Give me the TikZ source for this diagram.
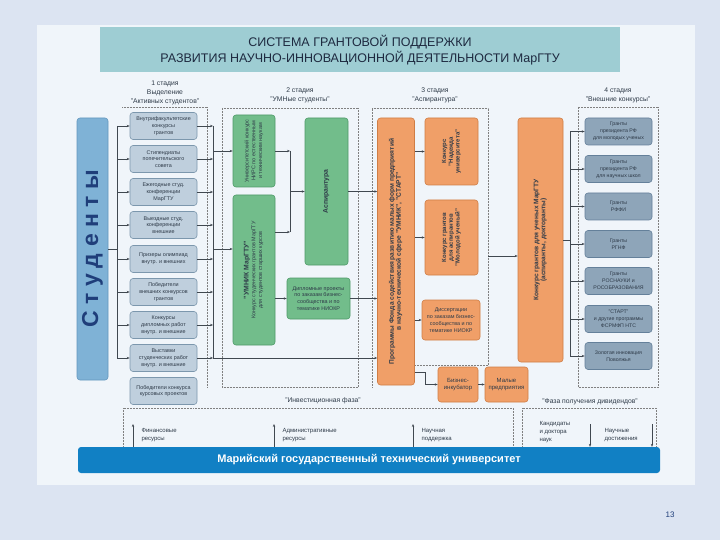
\documentclass[tikz,border=0pt]{standalone}
\usepackage{fontspec}
\usepackage{graphicx}
\setmainfont{Liberation Sans}
\usetikzlibrary{arrows.meta}

\definecolor{slidebg}{HTML}{DCE4F2}
\definecolor{panel}{HTML}{F0F5FA}
\definecolor{titlefill}{HTML}{9ECDD3}
\definecolor{titletxt}{HTML}{1E2A40}
\definecolor{studfill}{HTML}{7FB2D6}
\definecolor{studline}{HTML}{6497BD}
\definecolor{studtxt}{HTML}{1F3E7A}
\definecolor{greyfill}{HTML}{BFCFDD}
\definecolor{greyline}{HTML}{7C97AD}
\definecolor{greenfill}{HTML}{72BD8B}
\definecolor{greenline}{HTML}{4E9A68}
\definecolor{orfill}{HTML}{F09F68}
\definecolor{orline}{HTML}{CF7D45}
\definecolor{slatefill}{HTML}{8EA5B9}
\definecolor{slateline}{HTML}{64809A}
\definecolor{bartone}{HTML}{1180C4}
\definecolor{txt}{HTML}{2E3A48}
\definecolor{wire}{HTML}{404850}

\tikzset{
  titlebox/.style={fill=titlefill, minimum width=520pt, minimum height=45pt, align=center,
    text=titletxt, font=\fontsize{12.5}{16}\selectfont},
  stage/.style={align=center, text=txt, font=\fontsize{6.8}{9}\selectfont},
  phase/.style={text=txt, font=\fontsize{6.8}{8}\selectfont},
  studbox/.style={draw=studline, fill=studfill, rounded corners=3pt, line width=0.6pt,
    minimum width=31pt, minimum height=262pt, text=studtxt, font=\fontsize{23}{25}\selectfont\bfseries},
  greybox/.style={draw=greyline, fill=greyfill, rounded corners=3pt, line width=0.6pt,
    minimum width=67pt, minimum height=27pt, inner sep=1pt, align=center, text=txt,
    font=\fontsize{5.4}{6.8}\selectfont},
  greenbox/.style={draw=greenline, fill=greenfill, rounded corners=3pt, line width=0.6pt,
    inner sep=1pt, align=center, text=txt, font=\fontsize{5.4}{6.8}\selectfont},
  orbox/.style={draw=orline, fill=orfill, rounded corners=3pt, line width=0.6pt,
    inner sep=1pt, align=center, text=txt, font=\fontsize{5.4}{6.8}\selectfont},
  slatebox/.style={draw=slateline, fill=slatefill, rounded corners=3pt, line width=0.6pt,
    minimum width=67pt, minimum height=27pt, inner sep=1pt, align=center, text=txt,
    font=\fontsize{5.2}{6.8}\selectfont},
  unibar/.style={fill=bartone, rounded corners=3pt, minimum width=582pt, minimum height=26pt,
    text=white, font=\fontsize{11}{13}\selectfont\bfseries},
  restext/.style={anchor=north west, align=left, text=txt, font=\fontsize{6}{8}\selectfont},
  conn/.style={draw=wire, line width=0.5pt},
  arr/.style={conn, -{Stealth[length=3pt,width=2.4pt]}},
  frame/.style={draw=gray, line width=0.5pt, densely dotted},
}
\newcommand{\vtxt}[1]{\rotatebox{90}{\begin{tabular}{@{}c@{}}#1\end{tabular}}}

\begin{document}
\begin{tikzpicture}[x=1pt,y=-1pt]
    \fill[slidebg] (0,0) rectangle (720,540);
    \fill[panel] (37,25) rectangle (695,485);
    \useasboundingbox (0,0) rectangle (720,540);

    \node[titlebox] (title) at (360,50) {СИСТЕМА ГРАНТОВОЙ ПОДДЕРЖКИ\\РАЗВИТИЯ НАУЧНО-ИННОВАЦИОННОЙ ДЕЯТЕЛЬНОСТИ МарГТУ};

    \node[stage] (st1) at (165,93) {1 стадия\\Выделение\\"Активных студентов"};
    \node[stage] (st2) at (300,95) {2 стадия\\"УМНые студенты"};
    \node[stage] (st3) at (435,95) {3 стадия\\"Аспирантура"};
    \node[stage] (st4) at (618,95) {4 стадия\\"Внешние конкурсы"};

    % dotted frames of the stages
    \draw[frame] (122,107) -- (207,107) -- (207,387);
    \draw[frame] (222,108) rectangle (358,387);
    \draw[frame] (372,387) |- (488,108) -- (488,365) -- (415,365);
    \draw[frame] (578,107) rectangle (658,387);
    \draw[frame] (123,408) rectangle (513,447);
    \draw[frame] (522,408) rectangle (656,447);

    \node[studbox] (stud) at (92.5,249) {\rotatebox{90}{\addfontfeatures{LetterSpace=28}Студенты}};

    % stage 1
    \node[greybox] (b1) at (163.5,126) {Внутрифакультетские\\конкурсы\\грантов};
    \node[greybox] (b2) at (163.5,159) {Стипендиаты\\попечительского\\совета};
    \node[greybox] (b3) at (163.5,192) {Ежегодные студ.\\конференции\\МарГТУ};
    \node[greybox] (b4) at (163.5,225) {Выездные студ.\\конференции\\внешние};
    \node[greybox] (b5) at (163.5,259) {Призеры олимпиад\\внутр. и внешних};
    \node[greybox] (b6) at (163.5,292) {Победители\\внешних конкурсов\\грантов};
    \node[greybox] (b7) at (163.5,325) {Конкурсы\\дипломных работ\\внутр. и внешние};
    \node[greybox] (b8) at (163.5,358) {Выставки\\студенческих работ\\внутр. и внешние};
    \node[greybox] (b9) at (163.5,391) {Победители конкурса\\курсовых проектов};

    \coordinate (busL) at (117,0);
    \coordinate (busR) at (213,0);
    \draw[conn] (stud.east) -- (busL |- stud.east);
    \draw[conn] (busL |- b1) -- (busL |- b8);
    \draw[arr] (busL |- b1) -- (b1.west);
    \draw[arr] (busL |- b2) -- (b2.west);
    \draw[arr] (busL |- b3) -- (b3.west);
    \draw[arr] (busL |- b4) -- (b4.west);
    \draw[arr] (busL |- b5) -- (b5.west);
    \draw[arr] (busL |- b6) -- (b6.west);
    \draw[arr] (busL |- b7) -- (b7.west);
    \draw[arr] (busL |- b8) -- (b8.west);
    \draw[arr] (b1.east) -- (busR |- b1);
    \draw[arr] (b2.east) -- (busR |- b2);
    \draw[arr] (b3.east) -- (busR |- b3);
    \draw[arr] (b4.east) -- (busR |- b4);
    \draw[arr] (b5.east) -- (busR |- b5);
    \draw[arr] (b6.east) -- (busR |- b6);
    \draw[arr] (b7.east) -- (busR |- b7);
    \draw[arr] (b8.east) -- (busR |- b8);
    \draw[conn] (busR |- b1) -- (busR |- b8);

    % stage 2
    \node[greenbox, minimum width=42pt, minimum height=72pt] (nirs) at (254,151)
        {\vtxt{Университетский конкурс\\НИРС по естественным\\и техническим наукам}};
    \node[greenbox, minimum width=42pt, minimum height=150pt] (umnik) at (254,270)
        {\vtxt{{\bfseries\fontsize{6.8}{8}\selectfont "УМНИК МарГТУ"}\\Конкурс студенческих грантов МарГТУ\\для студентов старших курсов}};
    \node[greenbox, minimum width=43pt, minimum height=147pt] (asp) at (326.5,191.5)
        {\vtxt{\bfseries\fontsize{6.8}{8}\selectfont Аспирантура}};
    \node[greenbox, minimum width=63pt, minimum height=41pt] (dipl) at (318.5,298.5)
        {Дипломные проекты\\по заказам бизнес-\\сообщества и по\\тематике НИОКР};

    \draw[arr] (busR |- nirs) -- (nirs.west);
    \draw[arr] (busR |- stud.east) -- (umnik.west |- stud.east);

    \coordinate (jn) at (290,232);
    \draw[arr] (nirs.east) -- (jn |- nirs.east);
    \draw[arr] (umnik.east |- jn) -- (jn);
    \draw[conn] (jn |- nirs.east) -- (jn);
    \draw[arr] (jn |- asp) -- (asp.west);
    \draw[arr] (umnik.east |- dipl) -- (dipl.west);

    % stage 3
    \node[orbox, minimum width=37pt, minimum height=267pt] (prog) at (396,251.5)
        {\vtxt{\bfseries\fontsize{6.6}{8.5}\selectfont Программы Фонда содействия развитию малых форм предприятий\\\bfseries\fontsize{6.6}{8.5}\selectfont в научно-технической сфере "УМНИК", "СТАРТ"}};
    \node[orbox, minimum width=53pt, minimum height=67pt] (nadezh) at (451.5,151.5)
        {\vtxt{\bfseries\fontsize{6}{7.5}\selectfont Конкурс\\\bfseries\fontsize{6}{7.5}\selectfont "Надежда\\\bfseries\fontsize{6}{7.5}\selectfont университета"}};
    \node[orbox, minimum width=53pt, minimum height=75pt] (molod) at (451.5,237.5)
        {\vtxt{\bfseries\fontsize{6}{7.5}\selectfont Конкурс грантов\\\bfseries\fontsize{6}{7.5}\selectfont для аспирантов\\\bfseries\fontsize{6}{7.5}\selectfont "Молодой ученый"}};
    \node[orbox, minimum width=58pt, minimum height=40pt] (diss) at (451,320)
        {Диссертации\\по заказам бизнес-\\сообщества и по\\тематике НИОКР};
    \node[orbox, minimum width=40pt, minimum height=35pt, font=\fontsize{6}{7.5}\selectfont] (incub) at (458,384.5)
        {Бизнес-\\инкубатор};
    \node[orbox, minimum width=43pt, minimum height=35pt, font=\fontsize{6}{7.5}\selectfont] (small) at (506.5,384.5)
        {Малые\\предприятия};

    \draw[arr] (asp.east) -- (prog.west |- asp);
    \draw[arr] (dipl.east) -- (prog.west |- dipl);
    \draw[arr] (busR |- b8) -- (prog.west |- b8);
    \draw[arr] (prog.east |- nadezh) -- (nadezh.west);
    \draw[arr] (prog.east |- molod) -- (molod.west);
    \draw[arr] (prog.east |- diss) -- (diss.west);
    \coordinate (pout) at (415,372);
    \draw[arr] (pout) -- ++(10,0) |- (incub.west);
    \draw[arr] (incub.east) -- (small.west);

    % stage 4
    \node[orbox, minimum width=45pt, minimum height=244pt] (uchen) at (540.5,240)
        {\vtxt{\bfseries\fontsize{6.6}{8.5}\selectfont Конкурс грантов для ученых МарГТУ\\\bfseries\fontsize{6.6}{8.5}\selectfont (аспиранты, докторанты)}};
    \node[slatebox] (g1) at (618.5,131.5) {Гранты\\президента РФ\\для молодых ученых};
    \node[slatebox] (g2) at (618.5,169) {Гранты\\президента РФ\\для научных школ};
    \node[slatebox] (g3) at (618.5,206.5) {Гранты\\РФФИ};
    \node[slatebox] (g4) at (618.5,244) {Гранты\\РГНФ};
    \node[slatebox] (g5) at (618.5,281) {Гранты\\РОСНАУКИ и\\РОСОБРАЗОВАНИЯ};
    \node[slatebox] (g6) at (618.5,319) {"СТАРТ"\\и другие программы\\ФСРМФП НТС};
    \node[slatebox] (g7) at (618.5,356) {Золотая инновация\\Поволжья};

    \coordinate (f3) at (488,256);
    \draw[arr] (f3) -- (uchen.west |- f3);
    \coordinate (bus4) at (570,0);
    \draw[conn] (uchen.east) -- (bus4 |- uchen.east);
    \draw[conn] (bus4 |- g1) -- (bus4 |- g7);
    \draw[arr] (bus4 |- g1) -- (g1.west);
    \draw[arr] (bus4 |- g2) -- (g2.west);
    \draw[arr] (bus4 |- g3) -- (g3.west);
    \draw[arr] (bus4 |- g4) -- (g4.west);
    \draw[arr] (bus4 |- g5) -- (g5.west);
    \draw[arr] (bus4 |- g6) -- (g6.west);
    \draw[arr] (bus4 |- g7) -- (g7.west);

    % phases and university
    \node[phase] (inv) at (323,401) {"Инвестиционная фаза"};
    \node[phase] (div) at (590,402) {"Фаза получения дивидендов"};

    \node[unibar] (uni) at (369,460) {Марийский государственный технический университет};

    \coordinate (r1) at (133,424);
    \coordinate (r2) at (274,424);
    \coordinate (r3) at (413,424);
    \draw[arr] (uni.north -| r1) -- (r1);
    \draw[arr] (uni.north -| r2) -- (r2);
    \draw[arr] (uni.north -| r3) -- (r3);
    \node[restext] (fin) at (138,425) {Финансовые\\ресурсы};
    \node[restext] (adm) at (279,425) {Административные\\ресурсы};
    \node[restext] (nauch) at (418,425) {Научная\\поддержка};

    \coordinate (d1) at (590,424);
    \coordinate (d2) at (652,424);
    \draw[arr] (d1) -- (uni.north -| d1);
    \draw[arr] (d2) -- (uni.north -| d2);
    \node[restext] (kand) at (536,418) {Кандидаты\\и доктора\\наук};
    \node[restext] (dost) at (601,425) {Научные\\достижения};

    \node[text=studtxt, font=\fontsize{8}{9}\selectfont] (pgnum) at (670,515) {13};
\end{tikzpicture}
\end{document}
